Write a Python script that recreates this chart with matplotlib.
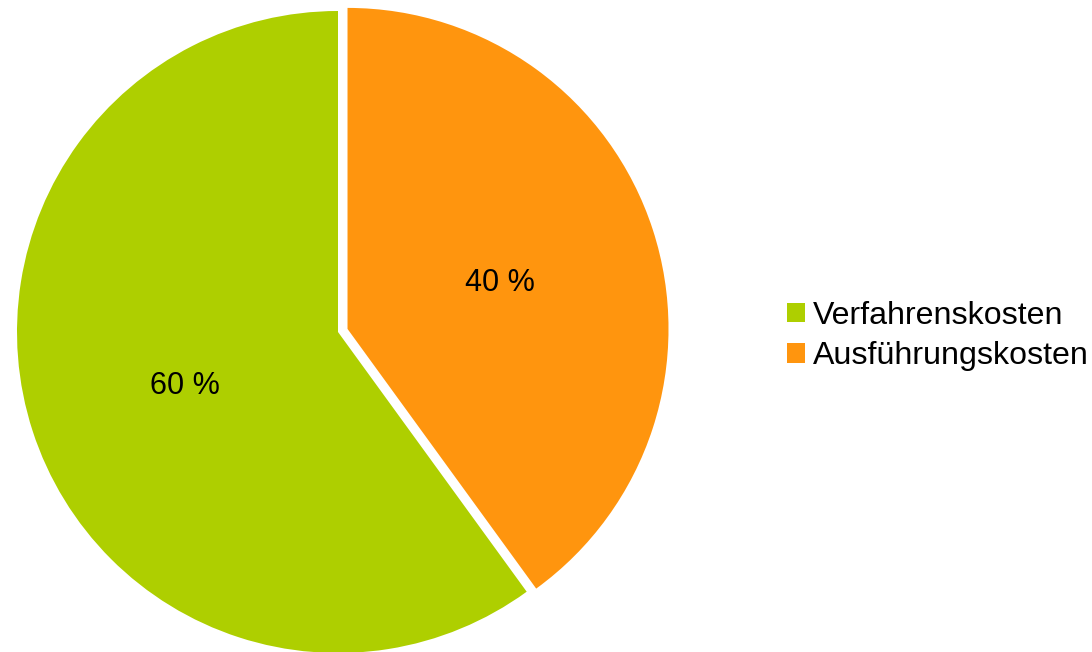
import matplotlib
matplotlib.use("Agg")
from matplotlib import pyplot as plt
from matplotlib.patches import Patch

plt.rcParams['font.family'] = ['Liberation Sans', 'DejaVu Sans']

labels = ["Verfahrenskosten", "Ausführungskosten"]
shares = [60, 40]
colors = ["#aecf00", "#ff950e"]

fig = plt.figure(figsize=(10.92, 6.52), dpi=100)
ax = fig.add_axes([0, 0, 1, 1])

# orange slice pulled out a little, like in the original
wedges, texts, autotexts = ax.pie(shares,
                                  colors=colors,
                                  explode=[0, 10],
                                  startangle=90,
                                  counterclock=True,
                                  radius=321,
                                  center=(338, 320),
                                  autopct=lambda p: f"{p:.0f} %",
                                  pctdistance=0.5,
                                  textprops=dict(fontsize=22, color="black"))
# percent labels sit a bit lower in the original
for t in autotexts:
    x, y = t.get_position()
    t.set_position((x, y - 4))

ax.set_xlim(0, 1092)
ax.set_ylim(0, 652)
ax.set_aspect("equal")
ax.axis("off")

handles = [Patch(facecolor=c, edgecolor="none") for c in colors]
ax.legend(handles, labels,
          loc="center left",
          bbox_to_anchor=(774 / 1092, 1 - 336 / 652),
          frameon=False,
          fontsize=23.1,
          handlelength=0.56,
          handleheight=0.56,
          handletextpad=0.25,
          labelspacing=0.32,
          borderaxespad=0)

fig.savefig("out.png", dpi=100)
